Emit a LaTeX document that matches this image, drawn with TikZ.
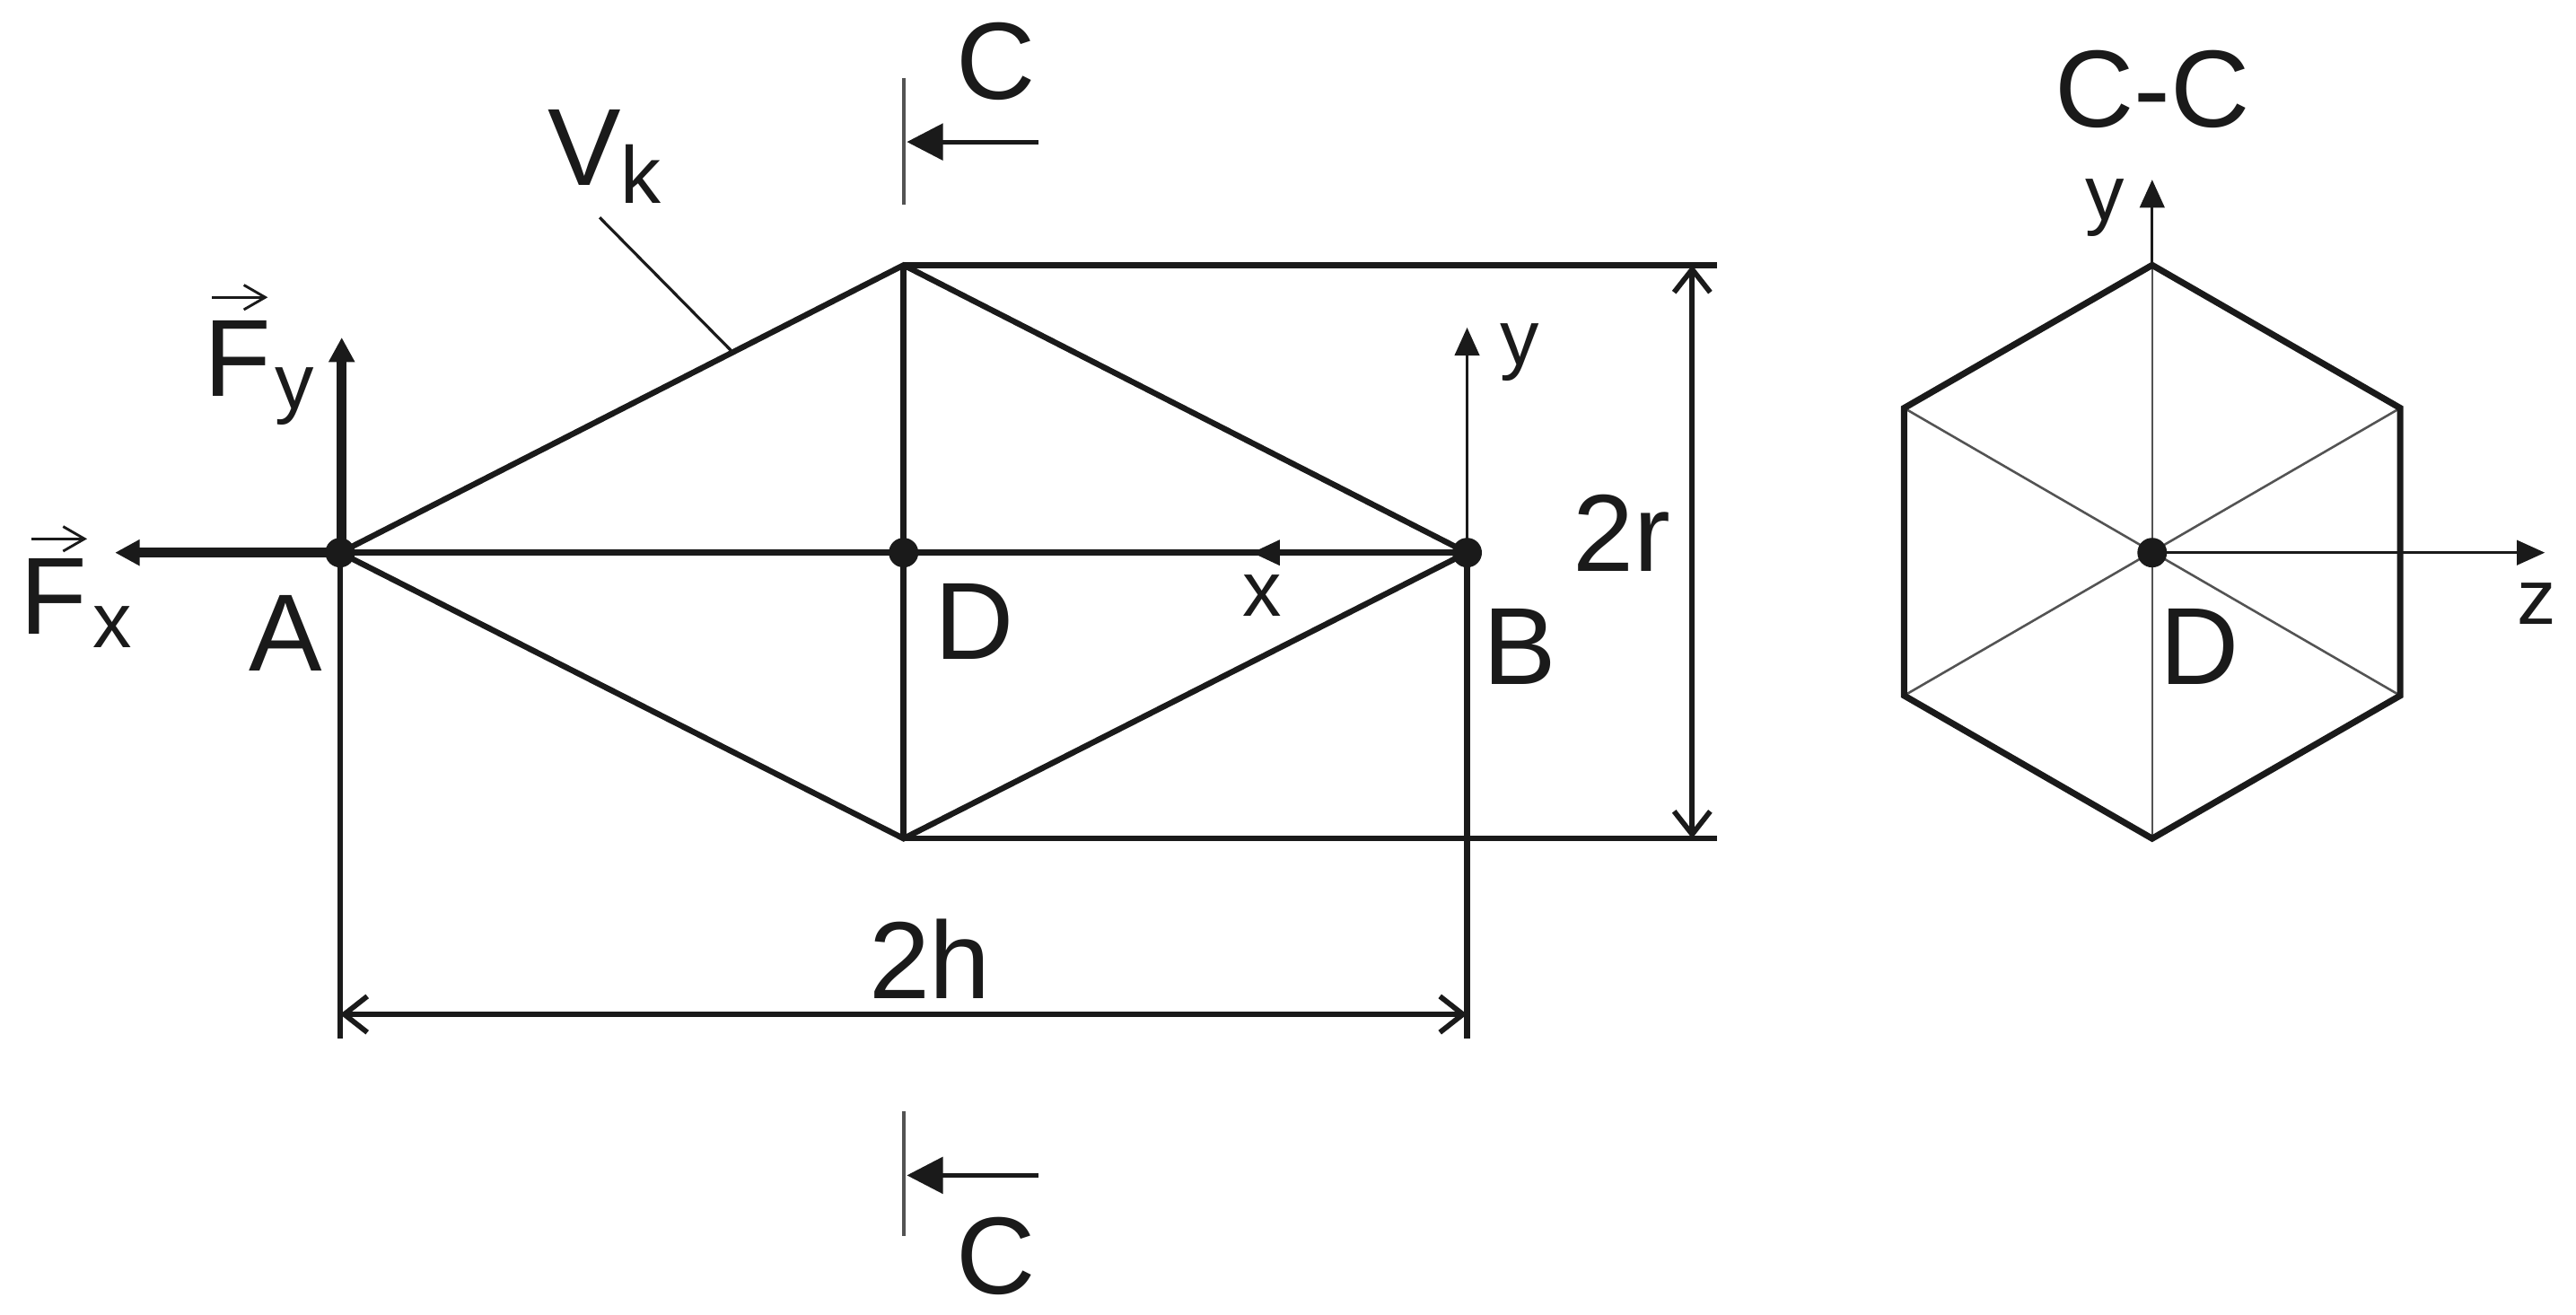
\documentclass[tikz,border=0pt]{standalone}
\usepackage{fontspec}
\setmainfont{Liberation Sans}
\usetikzlibrary{arrows.meta,calc}
\definecolor{inkc}{HTML}{1A1A1A}
\tikzset{
    bar/.style={line width=1pt,color=inkc},
    force/.style={line width=1.7pt,color=inkc,-{Triangle[length=1.5mm,width=1.5mm]}},
    axis/.style={line width=0.45pt,color=inkc,-{Triangle[length=1.7mm,width=1.5mm]}},
    thinbar/.style={line width=0.4pt,color=inkc!75},
    dimline/.style={line width=0.9pt,color=inkc,{Straight Barb[length=1.4mm,width=2.2mm]}-{Straight Barb[length=1.4mm,width=2.2mm]}},
    cutarrow/.style={line width=0.8pt,color=inkc,-{Triangle[length=2.2mm,width=2.2mm]}},
    vecmark/.style={line width=0.45pt,color=inkc,-{Straight Barb[length=1.3mm,width=1.5mm]}},
    joint/.style={circle,fill=inkc,inner sep=0pt,minimum size=1.8mm},
    big/.style={font=\fontsize{19}{19}\selectfont,text=inkc,inner sep=0pt},
    small/.style={font=\fontsize{13.5}{14}\selectfont,text=inkc,inner sep=0pt}
}
\begin{document}
\begin{tikzpicture}
    \useasboundingbox (0,0) rectangle (15.68,8.004);

    % Frame points
    \coordinate (A) at (2.07,4.64);
    \coordinate (D) at (5.50,4.64);
    \coordinate (B) at (8.93,4.64);
    \coordinate (T) at (5.50,6.39);
    \coordinate (U) at (5.50,2.90);
    \coordinate (TE) at (10.45,6.39);
    \coordinate (UE) at (10.45,2.90);

    % Bars
    \draw[bar] (A) -- (T) -- (B) -- (U) -- cycle;
    \draw[bar] (T) -- (U);
    \draw[bar] (A) -- (B);
    \draw[bar] (T) -- (TE);
    \draw[bar] (U) -- (UE);

    % Forces
    \coordinate (Fxend) at (0.70,4.64);
    \coordinate (Fystart) at (2.08,4.64);
    \coordinate (Fyend) at (2.08,5.95);
    \draw[force] (A) -- (Fxend);
    \draw[force] (Fystart) -- (Fyend);
    \node[big,anchor=base west] (Fx) at (0.115,4.144) {F};
    \node[small,anchor=base west] (Fxsub) at (0.56,4.064) {x};
    \node[big,anchor=base west] (Fy) at (1.235,5.594) {F};
    \node[small,anchor=base west] (Fysub) at (1.67,5.514) {y};
    \coordinate (Fxv1) at (0.19,4.724);
    \coordinate (Fxv2) at (0.53,4.724);
    \coordinate (Fyv1) at (1.29,6.194);
    \coordinate (Fyv2) at (1.63,6.194);
    \draw[vecmark] (Fxv1) -- (Fxv2);
    \draw[vecmark] (Fyv1) -- (Fyv2);

    % Local axes at B
    \coordinate (Bx) at (7.62,4.64);
    \coordinate (By) at (8.93,6.01);
    \draw[axis,line width=0.8pt] (B) -- (Bx);
    \draw[axis] (B) -- (By);
    \node[small] (xlabel) at (7.68,4.38) {x};
    \node[small] (ylabel) at (9.25,5.86) {y};

    % Dimensions
    \coordinate (Ah) at (2.07,1.68);
    \coordinate (Bh) at (8.93,1.68);
    \coordinate (h1) at (2.07,1.83);
    \coordinate (h2) at (8.93,1.83);
    \coordinate (r1) at (10.30,6.39);
    \coordinate (r2) at (10.30,2.90);
    \draw[bar] (A) -- (Ah);
    \draw[bar] (B) -- (Bh);
    \draw[dimline] (h1) -- (h2);
    \draw[dimline] (r1) -- (r2);
    \node[big] (twoh) at (5.66,2.17) {2h};
    \node[big] (twor) at (9.87,4.76) {2r};

    % Point labels
    \node[big] (Alabel) at (1.74,4.15) {A};
    \node[big] (Dlabel) at (5.93,4.22) {D};
    \node[big] (Blabel) at (9.25,4.07) {B};

    % Vk leader
    \coordinate (Vk1) at (3.65,6.68);
    \coordinate (Vk2) at (4.45,5.87);
    \draw[line width=0.5pt,color=inkc] (Vk1) -- (Vk2);
    \node[big] (Vk) at (3.68,7.05) {V\raisebox{-3pt}{\fontsize{14}{14}\selectfont k}};

    % Section marks
    \coordinate (Ca) at (5.50,7.53);
    \coordinate (Cb) at (5.50,6.76);
    \coordinate (Cc) at (6.32,7.14);
    \coordinate (Cd) at (5.52,7.14);
    \coordinate (Ce) at (5.50,1.24);
    \coordinate (Cf) at (5.50,0.48);
    \coordinate (Cg) at (6.32,0.85);
    \coordinate (Ch) at (5.52,0.85);
    \draw[thinbar,line width=0.6pt] (Ca) -- (Cb);
    \draw[thinbar,line width=0.6pt] (Ce) -- (Cf);
    \draw[cutarrow] (Cc) -- (Cd);
    \draw[cutarrow] (Cg) -- (Ch);
    \node[big] (Ctop) at (6.06,7.63) {C};
    \node[big] (Cbot) at (6.06,0.36) {C};

    % Section C-C
    \coordinate (E) at (13.10,4.64);
    \coordinate (H1) at (13.10,6.39);
    \coordinate (H2) at (14.61,5.52);
    \coordinate (H3) at (14.61,3.77);
    \coordinate (H4) at (13.10,2.90);
    \coordinate (H5) at (11.59,3.77);
    \coordinate (H6) at (11.59,5.52);
    \draw[thinbar] (H1) -- (H4);
    \draw[thinbar] (H2) -- (H5);
    \draw[thinbar] (H3) -- (H6);
    \draw[bar,line width=1.1pt] (H1) -- (H2) -- (H3) -- (H4) -- (H5) -- (H6) -- cycle;
    \coordinate (Ey) at (13.10,6.91);
    \coordinate (Ez) at (15.49,4.64);
    \draw[axis] (H1) -- (Ey);
    \draw[axis] (E) -- (Ez);
    \node[big] (CC) at (13.10,7.46) {C-C};
    \node[small] (Eylabel) at (12.81,6.74) {y};
    \node[small] (Ezlabel) at (15.44,4.33) {z};
    \node[big] (Elabel) at (13.39,4.07) {D};

    % Joints
    \node[joint] (Adot) at (A) {};
    \node[joint] (Ddot) at (D) {};
    \node[joint] (Bdot) at (B) {};
    \node[joint] (Edot) at (E) {};
\end{tikzpicture}
\end{document}
